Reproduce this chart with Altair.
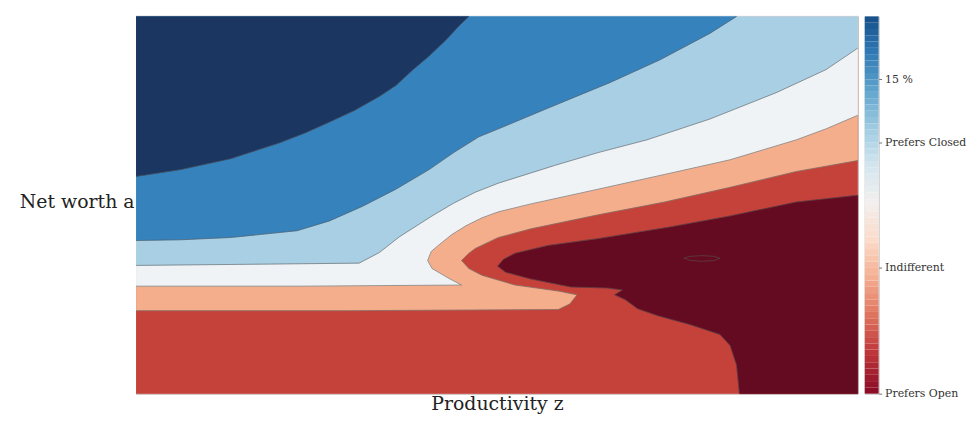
import altair as alt
import pandas as pd
import numpy as np

# ---- contour boundaries (productivity z, net worth a; both normalised 0..1)
# navy / medium blue
c1_z = [0.000, 0.062, 0.131, 0.199, 0.234, 0.268, 0.303, 0.337, 0.360, 0.382, 0.406, 0.429, 0.447, 0.461]
c1_a = [0.576, 0.594, 0.623, 0.665, 0.691, 0.720, 0.751, 0.788, 0.817, 0.856, 0.895, 0.937, 0.974, 1.000]
# medium blue / light blue
c2_z = [0.000, 0.062, 0.131, 0.223, 0.268, 0.314, 0.360, 0.406, 0.440, 0.475, 0.502, 0.567, 0.657, 0.726, 0.795, 0.832]
c2_a = [0.406, 0.408, 0.414, 0.432, 0.458, 0.497, 0.542, 0.594, 0.639, 0.681, 0.702, 0.754, 0.825, 0.885, 0.955, 1.000]
# light blue / white
c3_z = [0.000, 0.158, 0.309, 0.337, 0.365, 0.410, 0.440, 0.470, 0.502, 0.580, 0.640, 0.708, 0.795, 0.887, 0.956, 1.000]
c3_a = [0.340, 0.343, 0.346, 0.374, 0.416, 0.471, 0.505, 0.534, 0.558, 0.605, 0.639, 0.673, 0.728, 0.798, 0.859, 0.916]
# white / salmon
c4_z = [0.000, 0.227, 0.451, 0.433, 0.410, 0.404, 0.409, 0.420, 0.437, 0.457, 0.479, 0.502, 0.547, 0.640, 0.732, 0.823, 0.915, 0.956, 1.000]
c4_a = [0.285, 0.285, 0.288, 0.306, 0.332, 0.353, 0.377, 0.395, 0.421, 0.445, 0.466, 0.482, 0.503, 0.542, 0.581, 0.620, 0.673, 0.702, 0.738]
# salmon / red
c5_z = [0.000, 0.296, 0.585, 0.601, 0.611, 0.585, 0.525, 0.479, 0.461, 0.451, 0.461, 0.470, 0.502, 0.547, 0.640, 0.732, 0.823, 0.915, 1.000]
c5_a = [0.220, 0.220, 0.223, 0.238, 0.262, 0.272, 0.288, 0.314, 0.332, 0.353, 0.372, 0.385, 0.414, 0.437, 0.474, 0.508, 0.547, 0.589, 0.618]
# red / dark red, upper branch (tip -> right edge)
c6u_z = [0.501, 0.509, 0.525, 0.571, 0.640, 0.740, 0.823, 0.915, 1.000]
c6u_a = [0.338, 0.356, 0.372, 0.393, 0.411, 0.442, 0.471, 0.508, 0.526]
# red / dark red, lower branch (tip -> bottom edge)
c6l_z = [0.501, 0.512, 0.547, 0.602, 0.653, 0.674, 0.663, 0.678, 0.695, 0.722, 0.768, 0.809, 0.823, 0.832, 0.836]
c6l_a = [0.338, 0.322, 0.304, 0.283, 0.280, 0.275, 0.262, 0.249, 0.225, 0.207, 0.183, 0.157, 0.128, 0.076, 0.000]
# small closed contour inside the dark red region
ell_z = [0.759, 0.768, 0.784, 0.801, 0.809, 0.801, 0.784, 0.768, 0.759]
ell_a = [0.359, 0.364, 0.366, 0.364, 0.359, 0.353, 0.351, 0.353, 0.359]

# band colours (RdBu levels)
band_names = ["red", "salmon", "white", "lightblue", "medblue", "navy", "darkred"]
band_colors = ["#c4423a", "#f4ae8c", "#f0f3f6", "#a8cfe3", "#3682bd", "#1b3661", "#650b21"]

# colour bar
cb_domain = [-10, 20]
cb_tick_values = [-10, 0, 10, 15]
cb_tick_labels = ["Prefers Open", "Indifferent", "Prefers Closed", "15 %"]

# ---- build polygons (regions above each contour) and contour lines
polys = {
    "red": ([0, 1, 1, 0], [0, 0, 1, 1]),
    "salmon": (c5_z + [1, 0], c5_a + [1, 1]),
    "white": (c4_z + [1, 0], c4_a + [1, 1]),
    "lightblue": (c3_z + [1, 0], c3_a + [1, 1]),
    "medblue": (c2_z + [0], c2_a + [1]),
    "navy": (c1_z + [0], c1_a + [1]),
    "darkred": (c6u_z + [1] + c6l_z[::-1], c6u_a + [0] + c6l_a[::-1]),
}

lines = {
    "c1": (c1_z, c1_a), "c2": (c2_z, c2_a), "c3": (c3_z, c3_a),
    "c4": (c4_z, c4_a), "c5": (c5_z, c5_a),
    "c6": (c6u_z[::-1] + c6l_z[1:], c6u_a[::-1] + c6l_a[1:]),
    "ell": (ell_z, ell_a),
}

FONT = "DejaVu Serif"

x_enc = alt.X("z:Q", scale=alt.Scale(domain=[0, 1], nice=False, zero=False),
              axis=alt.Axis(title="Productivity z", labels=False, ticks=False, domain=False,
                            grid=False, titleFont=FONT, titleFontSize=19, titleFontWeight="normal",
                            titleColor="#222222", titlePadding=1))
y_enc = alt.Y("a:Q", scale=alt.Scale(domain=[0, 1], nice=False, zero=False),
              axis=alt.Axis(title="Net worth a", labels=False, ticks=False, domain=False,
                            grid=False, titleFont=FONT, titleFontSize=19, titleFontWeight="normal",
                            titleColor="#222222", titleAngle=0, titleAlign="right",
                            titleBaseline="middle", titleX=-2, titleY=186))

layers = []
for name, col in zip(band_names, band_colors):
    zs, ys = polys[name]
    df = pd.DataFrame({"z": zs, "a": ys, "i": range(len(zs))})
    layers.append(
        alt.Chart(df).mark_line(fill=col, stroke=col, strokeWidth=0.4)
        .encode(x=x_enc, y=y_enc, order="i:Q")
    )

rows = []
for cid, (zs, ys) in lines.items():
    for k, (zz, aa) in enumerate(zip(zs, ys)):
        rows.append({"cid": cid, "z": zz, "a": aa, "i": k})
line_df = pd.DataFrame(rows)
layers.append(
    alt.Chart(line_df).mark_line(stroke="#555555", strokeWidth=0.7, strokeOpacity=0.8)
    .encode(x=x_enc, y=y_enc, detail="cid:N", order="i:Q")
)

main = alt.layer(*layers).properties(width=727, height=380)

steps = np.arange(cb_domain[0], cb_domain[1], 0.5)
cb_df = pd.DataFrame({"v": steps, "v2": steps + 0.5})
label_expr = " : ".join(
    f"datum.value == {v} ? '{t}'" for v, t in zip(cb_tick_values, cb_tick_labels)
) + " : ''"

cbar = alt.Chart(cb_df).mark_rect().encode(
    y=alt.Y("v:Q", scale=alt.Scale(domain=cb_domain, nice=False, zero=False),
            axis=alt.Axis(orient="right", values=cb_tick_values, labelExpr=label_expr, title=None,
                          domain=False, grid=False, tickSize=3, tickColor="#777777",
                          labelFont=FONT, labelFontSize=11, labelColor="#333333",
                          labelFlush=False, labelOverlap=False, labelPadding=3)),
    y2="v2:Q",
    color=alt.Color("v:Q", scale=alt.Scale(scheme="redblue", domain=cb_domain), legend=None),
).properties(width=14, height=380)

chart = alt.hconcat(main, cbar, spacing=4).properties(
    padding={"left": 10, "top": 5, "right": 0, "bottom": 0},
    background="white",
).configure_view(stroke="#bdbdbd", strokeWidth=1)

chart.save("out.html", embed_options={"renderer": "svg", "actions": False})
